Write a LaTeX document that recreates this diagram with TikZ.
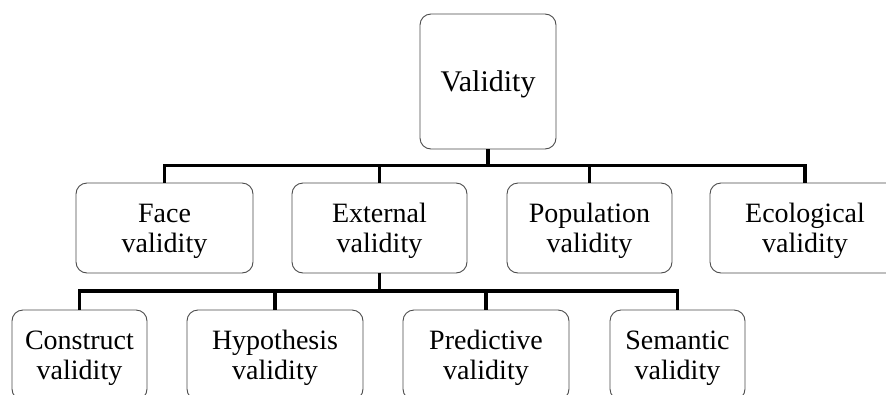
\documentclass[tikz,border=0pt]{standalone}
\usepackage{fontspec}
\setmainfont{Liberation Serif}
\begin{document}
\begin{tikzpicture}[x=1pt,y=-1pt,
  box/.style={draw=black!70, line width=0.9pt, rounded corners=11pt,
    align=center, inner sep=0pt, font=\fontsize{28}{30}\selectfont},
  midbox/.style={box, minimum height=90pt, text height=54pt, text depth=6pt},
  conn/.style={line width=3.4pt, black},
]
\useasboundingbox (0,0) rectangle (886,394);
\clip (0,0) rectangle (886,394);
\fill[white] (0,0) rectangle (886,394);

% root
\node[box, minimum width=136pt, minimum height=135pt,
      text height=25pt, text depth=6pt,
      font=\fontsize{30}{32}\selectfont] (val) at (488,81.5) {Validity};

% second level
\node[midbox, minimum width=177pt] (face) at (164.5,228) {Face\\validity};
\node[midbox, minimum width=175pt] (ext)  at (379.5,228) {External\\validity};
\node[midbox, minimum width=165pt] (pop)  at (589.5,228) {Population\\validity};
\node[midbox, minimum width=190pt] (eco)  at (805,228)   {Ecological\\validity};

% third level (under External validity)
\node[midbox, minimum width=135pt] (con) at (79.5,355)  {Construct\\validity};
\node[midbox, minimum width=176pt] (hyp) at (275,355)   {Hypothesis\\validity};
\node[midbox, minimum width=166pt] (pre) at (486,355)   {Predictive\\validity};
\node[midbox, minimum width=135pt] (sem) at (677.5,355) {Semantic\\validity};

% bus lines
\coordinate (bus1) at (0,165.5);
\coordinate (bus2) at (0,291);

\foreach \c in {face,ext,pop,eco}
  \draw[conn] (val.south) -- (val.south |- bus1) -| (\c.north);
\foreach \c in {con,hyp,pre,sem}
  \draw[conn] (ext.south) -- (ext.south |- bus2) -| (\c.north);
\end{tikzpicture}
\end{document}
